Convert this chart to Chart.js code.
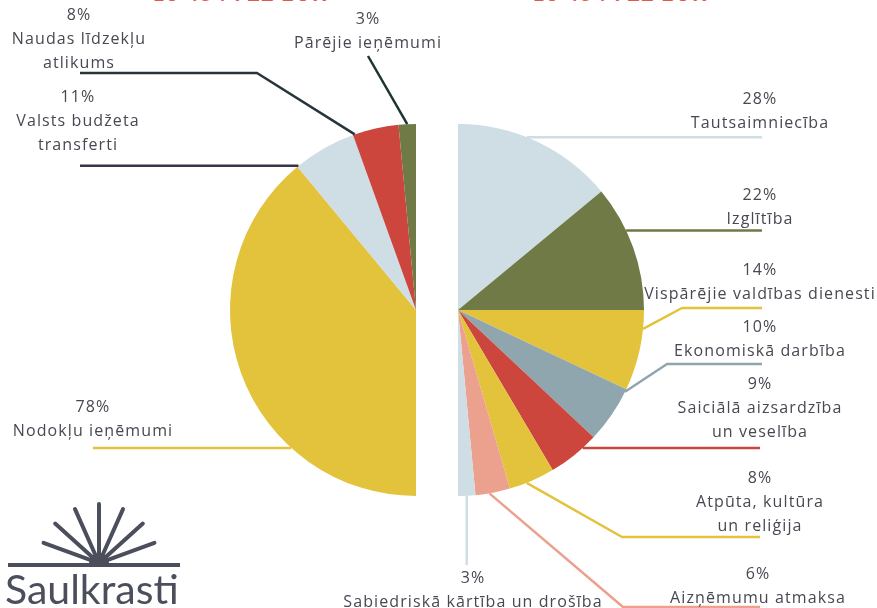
<!DOCTYPE html>
<html>
<head>
<meta charset="utf-8">
<script src="https://cdn.jsdelivr.net/npm/chart.js@4.4.1/dist/chart.umd.min.js"></script>
<style>
  html, body { margin: 0; padding: 0; background: #fff; overflow: hidden; }
  #wrap { position: relative; width: 877px; height: 608px; overflow: hidden; }
  #wrap canvas { position: absolute; left: 0; top: 0; }
  .title { position: absolute; top: -21px; height: 22px; line-height: 22px; color: #e2584b;
           font: bold 22px Lato, sans-serif; white-space: nowrap; letter-spacing: 1px; }
</style>
</head>
<body>
<div id="wrap">
  <div class="title" style="left:152px">13 454 722 EUR</div>
  <div class="title" style="left:532px">13 454 722 EUR</div>
  <canvas id="income" width="877" height="608"></canvas>
  <canvas id="spend" width="877" height="608"></canvas>
  <canvas id="logo" width="200" height="120" style="top:488px"></canvas>
</div>
<script>
// ieņēmumi (left half)
const incomeLabels = ['Nodokļu ieņēmumi', 'Valsts budžeta transferti', 'Naudas līdzekļu atlikums', 'Pārējie ieņēmumi'];
const incomeShares = [78, 11, 8, 3];

// izdevumi (right half)
const spendLabels = ['Tautsaimniecība', 'Izglītība', 'Vispārējie valdības dienesti', 'Ekonomiskā darbība',
  'Saiciālā aizsardzība un veselība', 'Atpūta, kultūra un reliģija', 'Aizņēmumu atmaksa', 'Sabiedriskā kārtība un drošība'];
const spendShares = [28, 22, 14, 10, 9, 8, 6, 3];

const incomeColours = ['#e2c33b', '#cfdde4', '#cc463d', '#6f7a47'];
const spendColours = ['#cfdde4', '#6f7a47', '#e2c33b', '#8fa6af', '#cc463d', '#e2c33b', '#eca08e', '#cfdde4'];

const textColour = '#484852';
const lineH = 24;

// where each callout sits: t = position along the slice edge, path = leader line after the slice edge
// null in a path point means "same as the anchor"
const incomeCallouts = [
  { x: 93, y: 407, t: 0.30, path: [[93, null]] },
  { x: 78, y: 97, t: 0.02, wrap: [2, 1], colour: '#3d3048', path: [[80, null]] },
  { x: 79, y: 15, t: 0.04, wrap: [2, 1], colour: '#27353a', path: [[257, 73], [80, 73]] },
  { x: 368, y: 19, t: 0.5, colour: '#1d3531', path: [[368, 56]] }
];
const spendCallouts = [
  { x: 760, y: 99, t: 0.43, path: [[762, null]] },
  { x: 760, y: 195, t: 0.36, path: [[762, null]] },
  { x: 760, y: 270, t: 0.23, path: [[682, 308], [762, 308]] },
  { x: 760, y: 327, t: 0.05, path: [[667, 364], [762, 364]] },
  { x: 760, y: 384, t: 0.29, wrap: [2, 2], path: [[760, null]] },
  { x: 760, y: 478, t: 0.62, wrap: [2, 2], path: [[622, 537], [760, 537]] },
  { x: 758, y: 574, t: 0.6, path: [[623, 607], [760, 607]] },
  { x: 473, y: 578, t: 0.5, path: [[null, 565]] }
];

function splitWords(label, wrap) {
  if (!wrap) return [label];
  const words = label.split(' ');
  const out = [];
  let k = 0;
  wrap.forEach(n => { out.push(words.slice(k, k + n).join(' ')); k += n; });
  return out;
}

const callouts = {
  id: 'callouts',
  afterDatasetsDraw(chart, args, opts) {
    const ctx = chart.ctx;
    const meta = chart.getDatasetMeta(0);
    const ds = chart.data.datasets[0];
    opts.items.forEach((it, i) => {
      const arc = meta.data[i];
      const p = arc.getProps(['x', 'y', 'startAngle', 'endAngle', 'outerRadius'], true);
      const a = p.startAngle + (p.endAngle - p.startAngle) * it.t;
      const ax = p.x + Math.cos(a) * p.outerRadius;
      const ay = p.y + Math.sin(a) * p.outerRadius;

      ctx.save();
      ctx.strokeStyle = it.colour || ds.backgroundColor[i];
      ctx.lineWidth = 2.5;
      ctx.lineJoin = 'round';
      ctx.beginPath();
      ctx.moveTo(ax, ay);
      it.path.forEach(pt => ctx.lineTo(pt[0] === null ? ax : pt[0], pt[1] === null ? ay : pt[1]));
      ctx.stroke();

      ctx.fillStyle = textColour;
      ctx.font = '500 16px "Open Sans", sans-serif';
      ctx.letterSpacing = '1.1px';
      ctx.textAlign = 'center';
      ctx.textBaseline = 'middle';
      const lines = [ds.data[i] + '%'].concat(splitWords(chart.data.labels[i], it.wrap));
      lines.forEach((s, k) => ctx.fillText(s, it.x, it.y + k * lineH));
      ctx.restore();
    });
  }
};

function halfPie(id, labels, values, colours, rotation, padding, items) {
  return new Chart(document.getElementById(id), {
    type: 'pie',
    data: {
      labels: labels,
      datasets: [{ data: values, backgroundColor: colours, borderWidth: 0, hoverOffset: 0 }]
    },
    options: {
      responsive: false,
      animation: false,
      events: [],
      rotation: rotation,
      circumference: 180,
      layout: { padding: padding },
      plugins: {
        legend: { display: false },
        tooltip: { enabled: false },
        callouts: { items: items }
      }
    },
    plugins: [callouts]
  });
}

halfPie('income', incomeLabels, incomeShares, incomeColours, 180,
  { left: 230, right: 461, top: 124, bottom: 112 }, incomeCallouts);
halfPie('spend', spendLabels, spendShares, spendColours, 0,
  { left: 458, right: 233, top: 124, bottom: 112 }, spendCallouts);

// Saulkrasti logo
const lg = document.getElementById('logo').getContext('2d');
lg.strokeStyle = '#4b4f5c';
lg.fillStyle = '#4b4f5c';
lg.lineCap = 'round';
lg.lineWidth = 4;
const cx = 99, cy = 75;
[20, 42, 66, 90, 114, 138, 160].forEach(deg => {
  const r = deg * Math.PI / 180;
  lg.beginPath();
  lg.moveTo(cx - Math.cos(r) * 8, cy - Math.sin(r) * 8);
  lg.lineTo(cx - Math.cos(r) * 59, cy - Math.sin(r) * 59);
  lg.stroke();
});
lg.beginPath();
lg.arc(cx, cy, 10, Math.PI, 0);
lg.fill();
lg.lineCap = 'butt';
lg.beginPath();
lg.moveTo(8, 77);
lg.lineTo(180, 77);
lg.stroke();
lg.font = '41px Lato, sans-serif';
lg.textBaseline = 'alphabetic';
lg.fillText('Saulkrasti', 5, 116);
</script>
</body>
</html>
